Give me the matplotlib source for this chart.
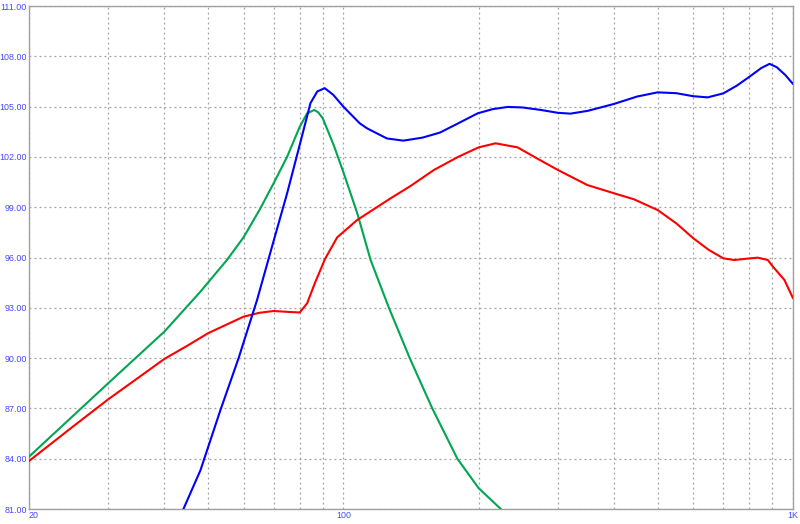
import matplotlib
matplotlib.use("Agg")
import matplotlib.pyplot as plt

# frequency response readings (Hz, dB)
blue_f = [44.1, 48.1, 53.3, 58.5, 64.3, 69.4, 75, 80.5, 84.5, 87.5, 90.9, 95, 100,
          108.8, 113, 125, 136, 150, 164, 180, 199, 215, 232, 250, 275, 300, 320, 350, 400,
          450, 500, 550, 600, 646, 700, 750, 800, 850, 887, 920, 960, 1000]
blue_db = [81.0, 83.3, 86.9, 90.0, 93.47, 96.64, 99.83, 103.0, 105.2, 105.9, 106.1, 105.7, 105.0,
           104.0, 103.7, 103.1, 102.97, 103.15, 103.45, 104.0, 104.6, 104.85, 104.98, 104.95, 104.8, 104.63, 104.58, 104.75, 105.16,
           105.6, 105.85, 105.8, 105.62, 105.55, 105.79, 106.25, 106.78, 107.3, 107.55, 107.35, 106.9, 106.35]

red_f = [20, 25, 30, 35, 40, 45, 50, 55, 60, 65, 70, 76, 80, 83.1, 86.7, 88.6, 91, 96.9,
         107.4, 127.4, 141, 159, 180, 200, 218, 244, 270, 300, 349, 400, 443, 500, 550,
         600, 650, 700, 741, 790, 835, 879, 900, 957, 1000]
red_db = [83.86, 85.9, 87.54, 88.83, 89.95, 90.74, 91.48, 92.0, 92.47, 92.7, 92.81, 92.75, 92.72, 93.27, 94.56, 95.15, 95.9, 97.2,
          98.24, 99.53, 100.26, 101.22, 102.0, 102.57, 102.81, 102.57, 101.9, 101.22, 100.32, 99.83, 99.47, 98.83, 98.04,
          97.15, 96.45, 95.95, 95.85, 95.93, 95.99, 95.85, 95.49, 94.66, 93.57]

green_f = [20, 30, 40, 48.1, 50, 55.1, 60, 65.4, 70, 75, 80, 83.1, 86.2, 88, 90, 95.2, 100, 107.4,
           115, 126.3, 140.5, 157.7, 179.3, 200, 224]
green_db = [84.12, 88.5, 91.58, 93.96, 94.5, 95.85, 97.2, 98.93, 100.43, 102.01, 103.8, 104.6, 104.8, 104.65, 104.3, 102.7, 101.1, 98.64,
            95.85, 93.0, 90.0, 87.0, 84.0, 82.24, 81.0]

y_ticks = [81, 84, 87, 90, 93, 96, 99, 102, 105, 108, 111]
x_ticks = [20, 100, 1000]
x_labels = ["20", "100", "1K"]
x_minor = [30, 40, 50, 60, 70, 80, 90, 200, 300, 400, 500, 600, 700, 800, 900]

fig = plt.figure(figsize=(8, 5.24), dpi=100)
ax = fig.add_axes([29 / 800, 15 / 524, 764 / 800, 503 / 524])

style = dict(lw=1.5, solid_joinstyle="round", solid_capstyle="round")
ax.plot(green_f, green_db, color="#00a650", zorder=3, **style)
ax.plot(red_f, red_db, color="#ff0000", zorder=4, **style)
ax.plot(blue_f, blue_db, color="#0000ff", zorder=5, **style)

ax.set_xscale("log")
ax.set_xlim(20, 1000)
ax.set_ylim(81, 111)

ax.set_xticks(x_ticks)
ax.set_xticklabels(x_labels)
ax.set_xticks(x_minor, minor=True)
ax.set_xticklabels([], minor=True)
ax.set_yticks(y_ticks)
ax.set_yticklabels([f"{v:.2f}" for v in y_ticks])

ax.tick_params(which="both", length=0, labelsize=6.4, labelcolor="#4646ff", pad=1.5)
for lab in ax.get_xticklabels() + ax.get_yticklabels():
    lab.set_family("Liberation Sans")
ax.get_xticklabels()[0].set_ha("left")

ax.grid(True, which="both", color="#a0a0a0", linestyle=(0, (1.5, 2.5)), linewidth=0.9)
ax.set_axisbelow(True)
for sp in ax.spines.values():
    sp.set_color("#a0a0a0")
    sp.set_linewidth(1.0)

fig.savefig("out.png", dpi=100)
